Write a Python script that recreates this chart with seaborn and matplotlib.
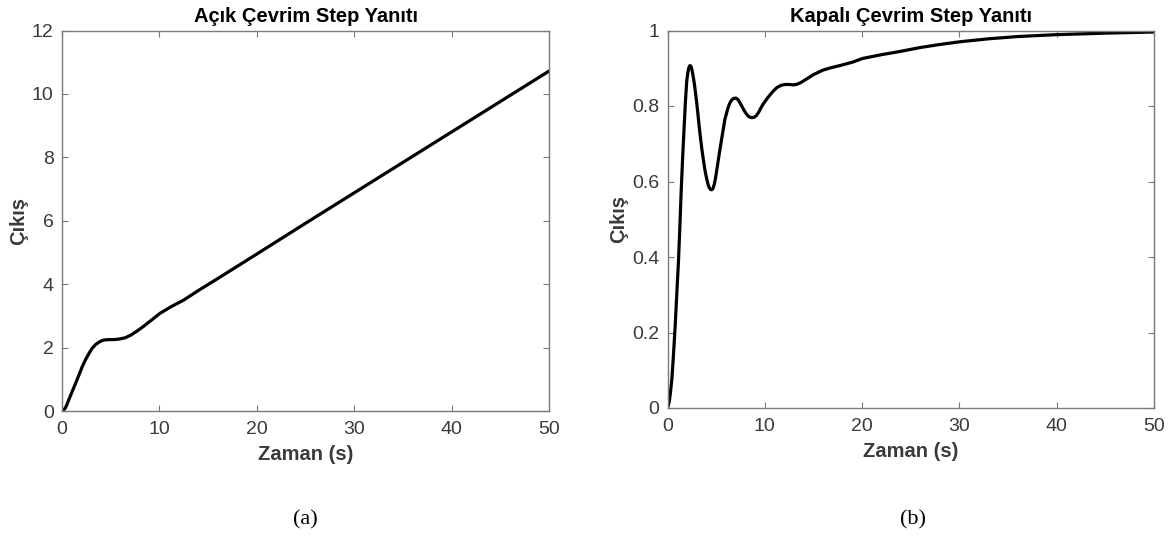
import matplotlib
matplotlib.use("Agg")
import matplotlib.pyplot as plt
import seaborn as sns
import pandas as pd

sns.set_theme(style="white")
plt.rcParams["font.family"] = ["Liberation Sans", "DejaVu Sans"]

# Open-loop step response (time in s, output)
open_t = [0, 0.2, 0.35, 0.5, 0.69, 1.0, 1.39, 1.75, 2.08, 2.45, 2.78, 3.1, 3.47,
          3.7, 3.9, 4.1, 4.34, 4.7, 5.0, 5.45, 5.9, 6.5, 7.1, 7.7, 8.33, 9.2,
          10.06, 11.2, 12.5, 14.0, 15.9, 20, 25, 30, 35, 40, 45, 50]
open_y = [0, 0.04, 0.1, 0.2, 0.35, 0.58, 0.87, 1.14, 1.40, 1.64, 1.82, 1.98, 2.1,
          2.15, 2.19, 2.22, 2.24, 2.25, 2.25, 2.255, 2.27, 2.31, 2.40, 2.52,
          2.66, 2.87, 3.08, 3.29, 3.50, 3.80, 4.16, 4.95, 5.92, 6.88, 7.84,
          8.80, 9.76, 10.72]

# Closed-loop step response (time in s, output)
closed_t = [0, 0.1, 0.2, 0.32, 0.45, 0.6, 0.79, 0.95, 1.13, 1.27, 1.4, 1.55, 1.71,
            1.85, 1.98, 2.1, 2.2, 2.3, 2.39, 2.48, 2.6, 2.72, 2.84, 2.97, 3.1,
            3.22, 3.35, 3.52, 3.7, 3.87, 4.03, 4.17, 4.3, 4.42, 4.54, 4.67, 4.8,
            4.93, 5.05, 5.3, 5.56, 5.9, 6.24, 6.45, 6.6, 6.8, 7.03, 7.25, 7.5,
            7.75, 7.95, 8.2, 8.4, 8.65, 8.9, 9.15, 9.4, 9.6, 9.83, 10.3, 10.85,
            11.25, 11.7, 12.1, 12.5, 12.9, 13.24, 13.7, 14.26, 15.0, 15.97, 16.9,
            17.85, 19.0, 20.06, 22.0, 23.8, 26, 28, 30, 33, 36, 40, 45, 50]
closed_y = [0, 0.008, 0.02, 0.045, 0.077, 0.135, 0.218, 0.3, 0.39, 0.48, 0.57,
            0.66, 0.744, 0.815, 0.867, 0.89, 0.902, 0.907, 0.906, 0.9, 0.884,
            0.866, 0.843, 0.816, 0.785, 0.755, 0.724, 0.688, 0.655, 0.627, 0.607,
            0.592, 0.583, 0.579, 0.578, 0.581, 0.592, 0.608, 0.628, 0.67, 0.712,
            0.765, 0.797, 0.81, 0.816, 0.82, 0.821, 0.817, 0.806, 0.794, 0.785,
            0.776, 0.771, 0.769, 0.770, 0.775, 0.785, 0.795, 0.805, 0.822, 0.839,
            0.849, 0.855, 0.857, 0.857, 0.856, 0.857, 0.862, 0.871, 0.883, 0.895,
            0.902, 0.908, 0.916, 0.926, 0.936, 0.944, 0.955, 0.963, 0.970, 0.978,
            0.984, 0.989, 0.993, 0.996]

x_ticks = [0, 10, 20, 30, 40, 50]
open_yticks = [0, 2, 4, 6, 8, 10, 12]
closed_yticks = [0, 0.2, 0.4, 0.6, 0.8, 1]
closed_yticklabels = ["0", "0.2", "0.4", "0.6", "0.8", "1"]

open_df = pd.DataFrame({"t": open_t, "y": open_y})
closed_df = pd.DataFrame({"t": closed_t, "y": closed_y})

W, H = 1173, 553
fig = plt.figure(figsize=(W / 100, H / 100), dpi=100)
ax1 = fig.add_axes([62 / W, (H - 411) / H, (549 - 62) / W, (411 - 30.5) / H])
ax2 = fig.add_axes([667.5 / W, (H - 408) / H, (1154 - 667.5) / W, (408 - 30.5) / H])

spine_col = "#7a7a7a"
text_col = "#3a3a3a"


def style(ax, title, ylim, yticks, yticklabels=None):
    ax.set_xlim(0, 50)
    ax.set_ylim(*ylim)
    ax.set_xticks(x_ticks)
    ax.set_yticks(yticks)
    if yticklabels is not None:
        ax.set_yticklabels(yticklabels)
    for s in ax.spines.values():
        s.set_visible(True)
        s.set_color(spine_col)
        s.set_linewidth(1.0)
    ax.tick_params(direction="in", length=4, width=0.8, color=spine_col,
                   top=True, right=True, labelsize=14, labelcolor=text_col,
                   bottom=True, left=True)
    ax.tick_params(axis="x", pad=7)
    ax.tick_params(axis="y", pad=6)
    ax.set_title(title, fontsize=14.5, fontweight="bold", color="black", pad=6)
    ax.set_xlabel("Zaman (s)", fontsize=14.5, fontweight="bold", color=text_col, labelpad=5)
    ax.set_ylabel("Çıkış", fontsize=14.5, fontweight="bold", color=text_col, labelpad=3)
    ax.grid(False)


sns.lineplot(data=open_df, x="t", y="y", ax=ax1, color="black", linewidth=2.3,
             estimator=None, sort=False)
style(ax1, "Açık Çevrim Step Yanıtı", (0, 12), open_yticks)

sns.lineplot(data=closed_df, x="t", y="y", ax=ax2, color="black", linewidth=2.3,
             estimator=None, sort=False)
style(ax2, "Kapalı Çevrim Step Yanıtı", (0, 1), closed_yticks, closed_yticklabels)

fig.text(305 / W, 1 - 520 / H, "(a)", ha="center", va="center",
         fontsize=16, family="Liberation Serif", color="black")
fig.text(913 / W, 1 - 520 / H, "(b)", ha="center", va="center",
         fontsize=16, family="Liberation Serif", color="black")

fig.savefig("out.png", dpi=100, facecolor="white")
